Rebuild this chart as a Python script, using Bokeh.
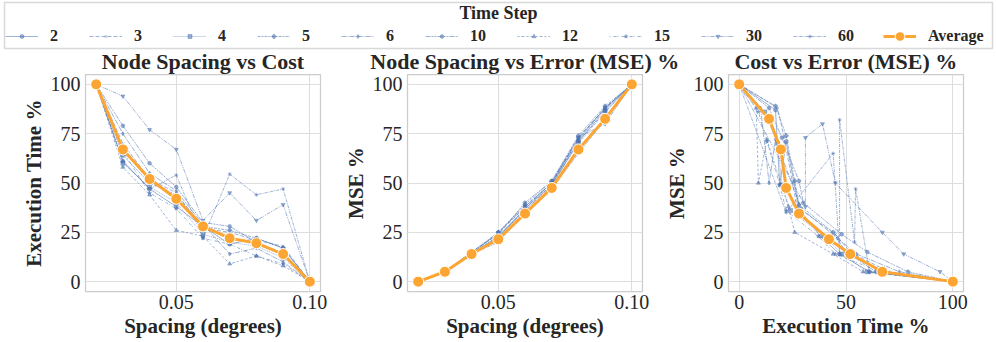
from bokeh.plotting import figure
from bokeh.layouts import column, row
from bokeh.models import (Range1d, Legend, LegendItem, Label, BoxAnnotation,
                          NumeralTickFormatter)
from bokeh.embed import file_html
from bokeh.resources import INLINE

# ---------------- data ----------------
spacing = [0.02, 0.03, 0.04, 0.05, 0.06, 0.07, 0.08, 0.09, 0.10]
time_steps = ["2", "3", "4", "5", "6", "10", "12", "15", "30", "60"]

exec_2 = [100, 61, 47, 38, 28, 19, 22, 17, 0]
exec_3 = [100, 70, 52, 45, 27, 25, 21, 18, 0]
exec_4 = [100, 60, 48, 40, 24, 20, 18, 12, 0]
exec_5 = [100, 64, 50, 44, 28, 26, 22, 17, 0]
exec_6 = [100, 75, 55, 46, 29, 14, 17, 10, 0]
exec_10 = [100, 79, 60, 48, 30, 28, 20, 14, 0]
exec_12 = [100, 58, 44, 26, 23, 9, 13, 8, 0]
exec_15 = [100, 66, 45, 37, 22, 19, 13, 9, 0]
exec_30 = [100, 94, 77, 67, 31, 45, 31, 39, 0]
exec_60 = [100, 61, 47, 54, 22, 54.5, 44, 47, 0]

mse_2 = [0, 5, 14, 23, 37, 49, 71, 87, 100]
mse_3 = [0, 5, 15, 24, 38, 50, 73, 88, 100]
mse_4 = [0, 5, 14, 23, 36, 49, 70, 86, 100]
mse_5 = [0, 5, 15, 25, 39, 51, 74, 89, 100]
mse_6 = [0, 5, 14, 22, 37, 50, 72, 88, 100]
mse_10 = [0, 5, 15, 24, 40, 51, 73, 88, 100]
mse_12 = [0, 5, 14, 25, 38, 50, 72, 88, 100]
mse_15 = [0, 5, 14, 23, 36, 49, 71, 86, 100]
mse_30 = [0, 5, 14, 25, 38, 50, 73, 80, 100]
mse_60 = [0, 5, 14, 20, 35, 47, 65, 82, 100]

avg_exec = [100, 67, 52, 42, 28, 22, 19.5, 14, 0]
avg_mse = [0, 5, 14, 21.5, 34.5, 47.5, 67, 82.5, 100]

y_ticks = [0, 25, 50, 75, 100]
spacing_ticks = [0.05, 0.10]
exec_ticks = [0, 50, 100]

exec_series = [exec_2, exec_3, exec_4, exec_5, exec_6, exec_10, exec_12, exec_15, exec_30, exec_60]
mse_series = [mse_2, mse_3, mse_4, mse_5, mse_6, mse_10, mse_12, mse_15, mse_30, mse_60]

# ---------------- styles ----------------
FONT = "Liberation Serif"
TXT = "#262626"
BLUE = "#4c72b0"
BLUE_ALPHA = 0.55
ORANGE = "#fda533"
dashes = ["solid", "4 2", "1 1", "3 1 2 1", "5 1 1 1", "5 1 2 1 2 1",
          "2 2 3 2", "1 3 3 1", "4 1 1 1 1 1", "3 1 1 1"]
markers = ["circle", "x", "square", "plus", "diamond", "hex",
           "triangle", "star", "inverted_triangle", "asterisk"]

TOTAL_W = 994
HEAD_H = 74
PANEL_H = 266
FRAME_W = 235
panel_specs = [
    dict(w=330, left=85, right=10),
    dict(w=322, left=77, right=10),
    dict(w=342, left=76, right=31),
]


def make_panel(spec, xr, xticks, xlabel, ylabel, xfmt=None):
    p = figure(width=spec["w"], height=PANEL_H, x_range=xr, y_range=Range1d(-5, 105),
               toolbar_location=None, output_backend="svg",
               min_border_left=spec["left"], min_border_right=spec["right"],
               min_border_top=0, min_border_bottom=30,
               x_axis_label=xlabel, y_axis_label=ylabel)
    p.outline_line_color = "#cccccc"
    p.outline_line_width = 1.25
    p.grid.grid_line_color = "#dedede"
    p.grid.grid_line_width = 1
    p.xaxis.ticker = xticks
    p.yaxis.ticker = y_ticks
    if xfmt is not None:
        p.xaxis.formatter = xfmt
    for ax in p.axis:
        ax.axis_line_color = None
        ax.major_tick_line_color = None
        ax.minor_tick_line_color = None
        ax.major_tick_out = 0
        ax.major_tick_in = 0
        ax.major_label_text_font = FONT
        ax.major_label_text_font_size = "20px"
        ax.major_label_text_color = TXT
        ax.axis_label_text_font = FONT
        ax.axis_label_text_font_style = "bold"
        ax.axis_label_text_font_size = "21px"
        ax.axis_label_text_color = TXT
        ax.axis_label_standoff = 2
    p.xaxis.major_label_standoff = 3
    p.yaxis.major_label_standoff = 5
    return p


def draw_series(p, xs, ys, i, visible=True):
    lr = p.line(xs, ys, line_color=BLUE, line_alpha=BLUE_ALPHA, line_width=1,
                line_dash=dashes[i], visible=visible)
    sr = p.scatter(xs, ys, marker=markers[i], size=4, fill_color=BLUE, line_color=BLUE,
                   fill_alpha=BLUE_ALPHA, line_alpha=BLUE_ALPHA, line_width=0.8, visible=visible)
    return lr, sr


def draw_avg(p, xs, ys, visible=True):
    lr = p.line(xs, ys, line_color=ORANGE, line_width=3, visible=visible)
    sr = p.scatter(xs, ys, marker="circle", size=11, fill_color=ORANGE, line_color="white",
                   line_width=1, visible=visible)
    return lr, sr


p1 = make_panel(panel_specs[0], Range1d(0.016, 0.104), spacing_ticks,
                "Spacing (degrees)", "Execution Time %", NumeralTickFormatter(format="0.00"))
p2 = make_panel(panel_specs[1], Range1d(0.016, 0.104), spacing_ticks,
                "Spacing (degrees)", "MSE %", NumeralTickFormatter(format="0.00"))
p3 = make_panel(panel_specs[2], Range1d(-5, 105), exec_ticks,
                "Execution Time %", "MSE %")

for i in range(len(time_steps)):
    draw_series(p1, spacing, exec_series[i], i)
    draw_series(p2, spacing, mse_series[i], i)
    pairs = sorted(zip(exec_series[i], mse_series[i]))
    draw_series(p3, [a for a, b in pairs], [b for a, b in pairs], i)

draw_avg(p1, spacing, avg_exec)
draw_avg(p2, spacing, avg_mse)
pairs = sorted(zip(avg_exec, avg_mse))
draw_avg(p3, [a for a, b in pairs], [b for a, b in pairs])

# ---------------- header: legend + panel titles ----------------
header = figure(width=TOTAL_W, height=HEAD_H, x_range=Range1d(0, TOTAL_W), y_range=Range1d(0, HEAD_H),
                toolbar_location=None, output_backend="svg", min_border=0,
                x_axis_location=None, y_axis_location=None)
header.grid.visible = False
header.outline_line_color = None

header.add_layout(BoxAnnotation(left=4, right=TOTAL_W - 2, bottom=26, top=72,
                                fill_color=None, line_color="#808080", line_width=1.5))
header.add_layout(Label(x=(4 + TOTAL_W - 2) / 2, y=62, text="Time Step", text_align="center",
                        text_baseline="middle", text_font=FONT, text_font_style="bold",
                        text_font_size="18px", text_color=TXT))

items = []
for i, ts in enumerate(time_steps):
    # hidden copies of the series, only used to draw the legend swatches
    lr, sr = draw_series(header, spacing, exec_series[i], i, visible=False)
    items.append(LegendItem(label=ts, renderers=[lr, sr]))

leg_common = dict(orientation="horizontal", glyph_width=33, label_standoff=12, label_width=8,
                  spacing=31, padding=0, margin=0, border_line_color=None,
                  background_fill_alpha=0, label_text_font=FONT, label_text_font_style="bold",
                  label_text_font_size="16px", label_text_color=TXT, label_height=20,
                  inactive_fill_alpha=0)
legend = Legend(items=items, location=(5, 28), glyph_height=10, **leg_common)
header.add_layout(legend)

alr, asr = draw_avg(header, spacing, avg_exec, visible=False)
legend2 = Legend(items=[LegendItem(label="Average", renderers=[alr, asr])],
                 location=(883, 26), glyph_height=24, **leg_common)
header.add_layout(legend2)

titles = ["Node Spacing vs Cost", "Node Spacing vs Error (MSE) %", "Cost vs Error (MSE) %"]
x0 = 0
for spec, t in zip(panel_specs, titles):
    cx = x0 + spec["left"] + FRAME_W / 2
    header.add_layout(Label(x=cx, y=13, text=t, text_align="center", text_baseline="middle",
                            text_font=FONT, text_font_style="bold", text_font_size="22px",
                            text_color=TXT))
    x0 += spec["w"]

layout = column(header, row(p1, p2, p3))
open("out.html", "w").write(file_html(layout, INLINE))
